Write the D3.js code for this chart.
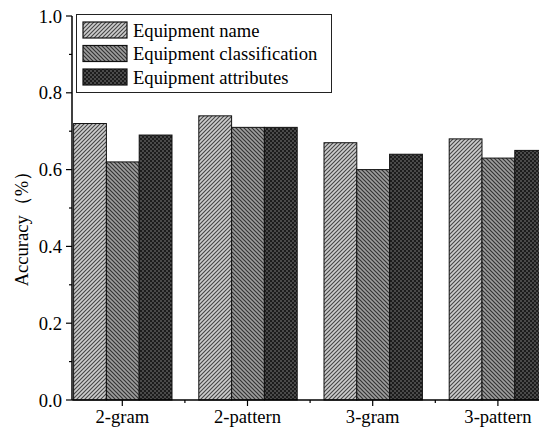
<!DOCTYPE html>
<html>
<head>
<meta charset="utf-8">
<script src="https://cdn.jsdelivr.net/npm/d3@7"></script>
<style>
html,body{margin:0;padding:0;background:#fff;}
svg{display:block;}
</style>
</head>
<body>
<div id="chart"></div>
<script>
const categories = ["2-gram", "2-pattern", "3-gram", "3-pattern"];
const seriesNames = ["Equipment name", "Equipment classification", "Equipment attributes"];
const equipmentName = [0.72, 0.74, 0.67, 0.68];
const equipmentClassification = [0.62, 0.71, 0.60, 0.63];
const equipmentAttributes = [0.69, 0.71, 0.64, 0.65];
const yTicks = [0.0, 0.2, 0.4, 0.6, 0.8, 1.0];
const yMinorTicks = [0.1, 0.3, 0.5, 0.7, 0.9];

const series = [equipmentName, equipmentClassification, equipmentAttributes];
const patternIds = ["pName", "pClass", "pAttr"];
const FONT = "'Liberation Serif', 'Times New Roman', serif";
const FS = 18.6;

const W = 539, H = 428;
const svg = d3.select("#chart").append("svg").attr("width", W).attr("height", H)
  .attr("font-family", FONT);

// patterns
const defs = svg.append("defs");
const p1 = defs.append("pattern").attr("id", "pName").attr("patternUnits", "userSpaceOnUse")
  .attr("width", 4).attr("height", 4);
p1.append("rect").attr("width", 4).attr("height", 4).attr("fill", "#cdcdcd");
p1.append("path").attr("d", "M-1,1 l2,-2 M0,4 l4,-4 M3,5 l2,-2").attr("stroke", "#454545").attr("stroke-width", 1.1);

const p2 = defs.append("pattern").attr("id", "pClass").attr("patternUnits", "userSpaceOnUse")
  .attr("width", 4).attr("height", 4);
p2.append("rect").attr("width", 4).attr("height", 4).attr("fill", "#9e9e9e");
p2.append("path").attr("d", "M-1,3 l2,2 M0,0 l4,4 M3,-1 l2,2").attr("stroke", "#333").attr("stroke-width", 1.2);

const p3 = defs.append("pattern").attr("id", "pAttr").attr("patternUnits", "userSpaceOnUse")
  .attr("width", 4).attr("height", 4);
p3.append("rect").attr("width", 4).attr("height", 4).attr("fill", "#1c1c1c");
p3.append("rect").attr("x", 0).attr("y", 0).attr("width", 2).attr("height", 2).attr("fill", "#4a4a4a");
p3.append("rect").attr("x", 2).attr("y", 2).attr("width", 2).attr("height", 2).attr("fill", "#4a4a4a");

// scales
const y = d3.scaleLinear().domain([0, 1]).range([400, 16]);
const x = d3.scaleLinear().domain([0, 1]).range([122.8, 248]); // category index -> center
const barW = 32.8;
const axisX = 72;

// bars
series.forEach((vals, s) => {
  svg.append("g").selectAll("rect").data(vals).join("rect")
    .attr("x", (d, i) => x(i) + (s - 1.5) * barW)
    .attr("y", d => y(d))
    .attr("width", barW)
    .attr("height", d => y(0) - y(d))
    .attr("fill", `url(#${patternIds[s]})`)
    .attr("stroke", "#111")
    .attr("stroke-width", 1);
});

// y axis
const yAxis = svg.append("g").attr("transform", `translate(${axisX},0)`);
yAxis.append("line").attr("x1", 0).attr("x2", 0).attr("y1", y(1)).attr("y2", y(0))
  .attr("stroke", "#000").attr("stroke-width", 1.5);
yAxis.selectAll(".maj").data(yTicks).join("line")
  .attr("x1", -6).attr("x2", 0).attr("y1", d => y(d)).attr("y2", d => y(d))
  .attr("stroke", "#000").attr("stroke-width", 1.2);
yAxis.selectAll(".min").data(yMinorTicks).join("line")
  .attr("x1", -3).attr("x2", 0).attr("y1", d => y(d)).attr("y2", d => y(d))
  .attr("stroke", "#000").attr("stroke-width", 1.2);
yAxis.selectAll("text").data(yTicks).join("text")
  .attr("x", -10).attr("y", d => y(d)).attr("dy", "0.35em")
  .attr("text-anchor", "end").attr("font-size", FS)
  .text(d => d3.format(".1f")(d));

// x axis
const xAxis = svg.append("g");
xAxis.append("line").attr("x1", axisX).attr("x2", W).attr("y1", y(0)).attr("y2", y(0))
  .attr("stroke", "#000").attr("stroke-width", 1.5);
xAxis.selectAll(".maj").data(categories).join("line")
  .attr("x1", (d, i) => x(i) - 0.5).attr("x2", (d, i) => x(i) - 0.5)
  .attr("y1", y(0)).attr("y2", y(0) + 6)
  .attr("stroke", "#000").attr("stroke-width", 1.2);
xAxis.selectAll(".min").data(categories.slice(0, 3)).join("line")
  .attr("x1", (d, i) => x(i + 0.5) - 0.5).attr("x2", (d, i) => x(i + 0.5) - 0.5)
  .attr("y1", y(0)).attr("y2", y(0) + 3)
  .attr("stroke", "#000").attr("stroke-width", 1.2);
xAxis.selectAll("text").data(categories).join("text")
  .attr("x", (d, i) => x(i) - 0.5).attr("y", 423)
  .attr("text-anchor", "middle").attr("font-size", FS)
  .text(d => d);

// y label
svg.append("text")
  .attr("transform", "translate(28,224) rotate(-90)")
  .attr("text-anchor", "middle").attr("font-size", FS)
  .text("Accuracy（%）");

// legend
const lg = svg.append("g");
lg.append("rect").attr("x", 76.5).attr("y", 14.5).attr("width", 255).attr("height", 78)
  .attr("fill", "#fff").attr("stroke", "#222").attr("stroke-width", 1);
seriesNames.forEach((name, s) => {
  const top = 22 + s * 23.5;
  lg.append("rect").attr("x", 83).attr("y", top).attr("width", 44).attr("height", 16)
    .attr("fill", `url(#${patternIds[s]})`).attr("stroke", "#111").attr("stroke-width", 1.2);
  lg.append("text").attr("x", 133).attr("y", top + 14.5).attr("font-size", FS).text(name);
});
</script>
</body>
</html>
